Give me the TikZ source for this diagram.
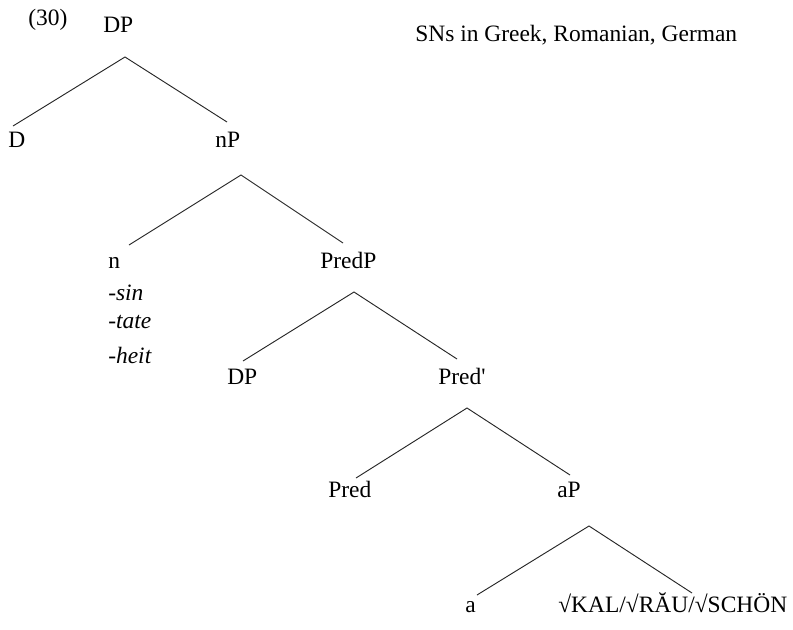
\documentclass[tikz,border=0pt]{standalone}
\usepackage{fontspec}
\setmainfont{Liberation Serif}[Ligatures=TeXOff]
\begin{document}
\begin{tikzpicture}[x=0.75pt,y=-0.75pt,
  lab/.style={anchor=base west,inner sep=0pt,font=\fontsize{17.6}{21}\selectfont},
  edge/.style={line width=0.7pt,black!85}]
\useasboundingbox (0,0) rectangle (793,629);
% labels
\node[lab] (ex) at (28,25) {(30)};
\node[lab] (dp1) at (103,32) {DP};
\node[lab] (title) at (415,41) {SNs in Greek, Romanian, German};
\node[lab] (d) at (8,147) {D};
\node[lab] (np) at (215,147) {nP};
\node[lab] (n) at (108,268) {n};
\node[lab] (sin) at (108,300) {-\textit{sin}};
\node[lab] (tate) at (108,328) {-\textit{tate}};
\node[lab] (heit) at (108,363) {-\textit{heit}};
\node[lab] (predp) at (320,268) {PredP};
\node[lab] (dp2) at (227,384) {DP};
\node[lab] (predbar) at (438,384) {Pred'};
\node[lab] (pred) at (328,497) {Pred};
\node[lab] (ap) at (557,497) {aP};
\node[lab] (a) at (465,612) {a};
\node[lab] (root) at (558,612) {√KAL/√RĂU/√SCHÖN};
% branch points
\coordinate (t1) at (125,57);  \coordinate (l1) at (13,126);  \coordinate (r1) at (227,122);
\coordinate (t2) at (241,175); \coordinate (l2) at (129,245); \coordinate (r2) at (343,243);
\coordinate (t3) at (354,292); \coordinate (l3) at (243,361); \coordinate (r3) at (457,359);
\coordinate (t4) at (467,408); \coordinate (l4) at (356,478); \coordinate (r4) at (570,475);
\coordinate (t5) at (589,526); \coordinate (l5) at (477,595); \coordinate (r5) at (692,593);
\foreach \i in {1,...,5}{
  \draw[edge] (l\i) -- (t\i) -- (r\i);
}
\end{tikzpicture}
\end{document}
